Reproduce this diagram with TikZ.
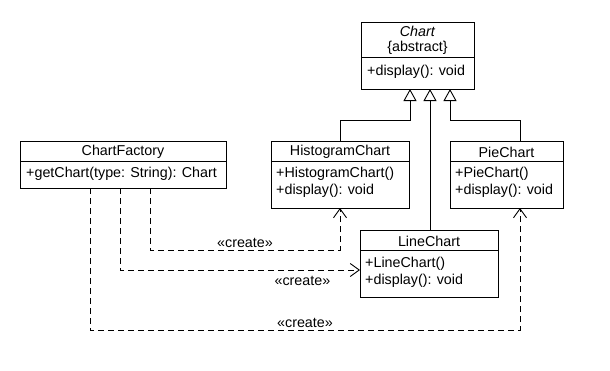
\documentclass[tikz,border=0pt]{standalone}
\usepackage{fontspec}
\setmainfont{Liberation Sans}
\usetikzlibrary{arrows.meta}
\begin{document}
\begin{tikzpicture}[x=1pt,y=-1pt,
  cls/.style={draw=black,line width=0.9pt,fill=white,inner sep=0pt,outer sep=0pt,anchor=north west},
  sep/.style={draw=black,line width=0.9pt},
  ttl/.style={inner sep=0pt,font=\fontsize{14.3pt}{16pt}\selectfont},
  mem/.style={inner sep=0pt,anchor=west,font=\fontsize{14.3pt}{16pt}\selectfont},
  inherit/.style={draw=black,line width=0.9pt,-{Triangle[open,length=12pt,width=13pt]}},
  dep/.style={draw=black,line width=0.9pt,dash pattern=on 6pt off 4pt,-{Straight Barb[length=9pt,width=13pt]}},
  lbl/.style={inner sep=1.5pt,font=\fontsize{14.3pt}{16pt}\selectfont}]
\useasboundingbox[fill=white] (0,0) rectangle (610,370);

% class boxes
\node[cls,minimum width=113pt,minimum height=67pt] (chart) at (361,22) {};
\node[cls,minimum width=206pt,minimum height=47pt] (factory) at (20,141) {};
\node[cls,minimum width=138pt,minimum height=67pt] (hist) at (271,141) {};
\node[cls,minimum width=113pt,minimum height=67pt] (pie) at (450,141) {};
\node[cls,minimum width=138pt,minimum height=67pt] (line) at (360,230) {};

% compartment separators
\draw[sep] ([yshift=-35pt]chart.north west) -- ([yshift=-35pt]chart.north east);
\draw[sep] ([yshift=-20pt]factory.north west) -- ([yshift=-20pt]factory.north east);
\draw[sep] ([yshift=-20pt]hist.north west) -- ([yshift=-20pt]hist.north east);
\draw[sep] ([yshift=-20pt]pie.north west) -- ([yshift=-20pt]pie.north east);
\draw[sep] ([yshift=-20pt]line.north west) -- ([yshift=-20pt]line.north east);

% class names and members
\node[ttl,align=center,font=\fontsize{14.3pt}{15.5pt}\selectfont] (chart-name)
  at ([yshift=-18.5pt]chart.north) {\textit{Chart}\\\{abstract\}};
\node[mem] (chart-m1) at ([xshift=6pt,yshift=-50pt]chart.north west) {+display(): void};

\node[ttl] (factory-name) at ([yshift=-11pt]factory.north) {ChartFactory};
\node[mem] (factory-m1) at ([xshift=6pt,yshift=-33pt]factory.north west) {+getChart(type: String): Chart};

\node[ttl] (hist-name) at ([yshift=-11pt]hist.north) {HistogramChart};
\node[mem] (hist-m1) at ([xshift=5pt,yshift=-33pt]hist.north west) {+HistogramChart()};
\node[mem] (hist-m2) at ([xshift=5pt,yshift=-50pt]hist.north west) {+display(): void};

\node[ttl] (pie-name) at ([yshift=-11pt]pie.north) {PieChart};
\node[mem] (pie-m1) at ([xshift=5pt,yshift=-33pt]pie.north west) {+PieChart()};
\node[mem] (pie-m2) at ([xshift=5pt,yshift=-50pt]pie.north west) {+display(): void};

\node[ttl] (line-name) at ([yshift=-11pt]line.north) {LineChart};
\node[mem] (line-m1) at ([xshift=5pt,yshift=-34pt]line.north west) {+LineChart()};
\node[mem] (line-m2) at ([xshift=5pt,yshift=-51pt]line.north west) {+display(): void};

% routing guides
\coordinate (hx) at (340,0);
\coordinate (px) at (520,0);
\coordinate (ix1) at (410,0);
\coordinate (ix2) at (430,0);
\coordinate (ix3) at (450,0);
\coordinate (fx1) at (90,0);
\coordinate (fx2) at (120,0);
\coordinate (fx3) at (150,0);
\coordinate (yb) at (0,120);
\coordinate (y1) at (0,250);
\coordinate (y2) at (0,270);
\coordinate (y3) at (0,330);

% generalizations
\draw[inherit] (hist.north -| hx) -- (hx |- yb) -- (ix1 |- yb) -- (chart.south -| ix1);
\draw[inherit] (line.north -| ix2) -- (chart.south -| ix2);
\draw[inherit] (pie.north -| px) -- (px |- yb) -- (ix3 |- yb) -- (chart.south -| ix3);

% create dependencies
\draw[dep] (factory.south -| fx3) -- (fx3 |- y1) -- node[lbl,above] {«create»} (hx |- y1) -- (hist.south -| hx);
\draw[dep] (factory.south -| fx2) -- (fx2 |- y2) -- node[lbl,below=4pt,pos=0.76] {«create»} (line.west |- y2);
\draw[dep] (factory.south -| fx1) -- (fx1 |- y3) -- node[lbl,above] {«create»} (px |- y3) -- (pie.south -| px);
\end{tikzpicture}
\end{document}
